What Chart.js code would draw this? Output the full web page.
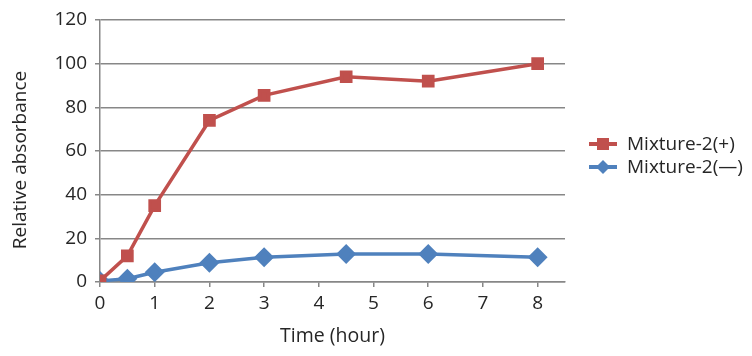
<!DOCTYPE html>
<html><head><meta charset="utf-8">
<script src="https://cdn.jsdelivr.net/npm/chart.js@4/dist/chart.umd.min.js"></script>
<style>html,body{margin:0;padding:0;background:#fff}#wrap{width:752px;height:356px}</style>
</head><body><div id="wrap"><canvas id="c" width="752" height="356"></canvas></div>
<script>
const timeHours = [0, 0.5, 1, 2, 3, 4.5, 6, 8];
const mixturePlus = [0.5, 12, 35, 74, 85.5, 94, 92, 100];
const mixtureMinus = [0.5, 1.5, 4.5, 8.8, 11.3, 12.8, 12.8, 11.3];
const seriesNames = ['Mixture-2(+)', 'Mixture-2(—)'];
const xTickValues = [0, 1, 2, 3, 4, 5, 6, 7, 8];
const yTickValues = [0, 20, 40, 60, 80, 100, 120];
const xTitle = 'Time (hour)';
const yTitle = 'Relative absorbance';

const FONT = "'Open Sans', 'Noto Sans', sans-serif";
const RED = '#C0504D', BLUE = '#4F81BD';
const TEXT = '#262626';

const legendPlugin = {
  id: 'sideLegend',
  afterDraw(chart) {
    const ctx = chart.ctx;
    const items = chart.data.datasets;
    const x0 = 589, y0 = 144, gap = 23;
    ctx.save();
    items.forEach((ds, i) => {
      const y = y0 + i * gap;
      ctx.strokeStyle = ds.borderColor;
      ctx.lineWidth = 4;
      ctx.beginPath(); ctx.moveTo(x0, y); ctx.lineTo(x0 + 28, y); ctx.stroke();
      ctx.fillStyle = ds.borderColor;
      const cx = x0 + 14;
      if (ds.pointStyle === 'rect') {
        ctx.fillRect(cx - 6, y - 6, 12, 12);
      } else {
        ctx.beginPath(); ctx.moveTo(cx, y - 7); ctx.lineTo(cx + 7, y); ctx.lineTo(cx, y + 7); ctx.lineTo(cx - 7, y); ctx.closePath(); ctx.fill();
      }
      ctx.fillStyle = TEXT;
      ctx.font = '19px ' + FONT;
      ctx.textAlign = 'left'; ctx.textBaseline = 'middle';
      ctx.fillText(ds.label, x0 + 38, y + 1);
    });
    // y-axis title
    ctx.translate(21, 160);
    ctx.rotate(-Math.PI / 2);
    ctx.font = '19px ' + FONT;
    ctx.textAlign = 'center'; ctx.textBaseline = 'middle';
    ctx.fillText(yTitle, 0, 0);
    ctx.restore();
  }
};

new Chart(document.getElementById('c'), {
  type: 'line',
  data: {
    datasets: [
      { label: seriesNames[0], data: timeHours.map((t, i) => ({x: t, y: mixturePlus[i]})),
        borderColor: RED, backgroundColor: RED, borderWidth: 3.5, pointStyle: 'rect', pointRadius: 6.5, pointHoverRadius: 6.5, tension: 0 },
      { label: seriesNames[1], data: timeHours.map((t, i) => ({x: t, y: mixtureMinus[i]})),
        borderColor: BLUE, backgroundColor: BLUE, borderWidth: 3.5, pointStyle: 'rectRot', pointRadius: 7.5, pointHoverRadius: 7.5, tension: 0 }
    ]
  },
  options: {
    responsive: false, animation: false,
    layout: { padding: { left: 0, top: 20, right: 187, bottom: 0 } },
    plugins: { legend: { display: false }, tooltip: { enabled: false } },
    scales: {
      x: {
        type: 'linear', min: 0, max: 8.5,
        afterBuildTicks: s => { s.ticks = xTickValues.map(v => ({value: v})); },
        afterFit: s => { s.height = 74; },
        grid: { drawOnChartArea: false, drawTicks: true, tickLength: 5, color: '#878787', lineWidth: 1.5 },
        border: { color: '#878787', width: 1.5 },
        ticks: { color: TEXT, font: { family: FONT, size: 19 }, padding: 5, maxRotation: 0 },
        title: { display: true, text: xTitle, color: TEXT, font: { family: FONT, size: 19.5 }, padding: { top: 4, bottom: 8 } }
      },
      y: {
        min: 0, max: 120,
        afterBuildTicks: s => { s.ticks = yTickValues.map(v => ({value: v})); },
        afterFit: s => { s.width = 100; },
        grid: { drawTicks: true, tickLength: 5, color: '#878787', lineWidth: 1.5 },
        border: { color: '#878787', width: 1.5 },
        ticks: { color: TEXT, font: { family: FONT, size: 19 }, padding: 8 },
        title: { display: false }
      }
    }
  },
  plugins: [legendPlugin]
});
</script></body></html>
